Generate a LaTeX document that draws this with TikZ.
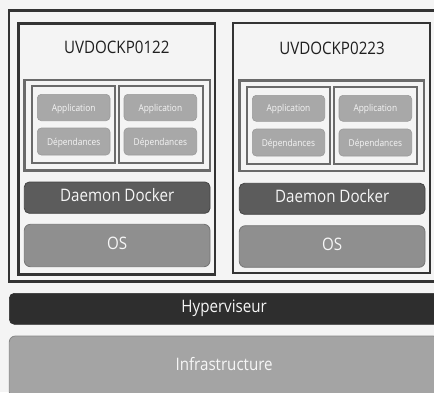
\documentclass[tikz,border=0pt]{standalone}
\usepackage{fontspec}
\setmainfont{Open Sans}[FakeStretch=0.88]
\definecolor{bg}{HTML}{F4F4F4}
\definecolor{frame}{HTML}{333333}
\definecolor{cont}{HTML}{6A6A6A}
\definecolor{appfill}{HTML}{A8A8A8}
\definecolor{appline}{HTML}{9A9A9A}
\definecolor{dmfill}{HTML}{5C5C5C}
\definecolor{dmline}{HTML}{444444}
\definecolor{osfill}{HTML}{8F8F8F}
\definecolor{osline}{HTML}{757575}
\definecolor{hyfill}{HTML}{2E2E2E}
\definecolor{infill}{HTML}{A4A4A4}
\definecolor{inline}{HTML}{888888}
\definecolor{txtw}{HTML}{F6F6F6}
\tikzset{
  every node/.style={inner sep=0pt, outer sep=0pt},
  bigtxt/.style={font=\fontsize{17.2}{20}\selectfont, text height=0.714em, text depth=0pt},
  smalltxt/.style={font=\fontsize{9.5}{11}\selectfont, text height=0.714em, text depth=0pt},
  outerframe/.style={draw=frame, line width=2.5pt},
  vmbox/.style={draw=frame, line width=2.5pt, fill=bg},
  contbox/.style={draw=cont, line width=2.2pt, fill=bg},
  appbox/.style={draw=appline, line width=0.6pt, fill=appfill, rounded corners=4pt, text=txtw, smalltxt},
  dmbox/.style={draw=dmline, line width=0.8pt, fill=dmfill, rounded corners=5pt, text=txtw, bigtxt},
  osbox/.style={draw=osline, line width=0.8pt, fill=osfill, rounded corners=6pt, text=txtw, bigtxt},
  hybox/.style={draw=hyfill, line width=0.6pt, fill=hyfill, rounded corners=5pt, text=txtw, bigtxt},
  infbox/.style={draw=inline, line width=0.8pt, fill=infill, rounded corners=6pt, text=txtw, bigtxt},
  title/.style={text=black!88, bigtxt}
}
\begin{document}
\begin{tikzpicture}[x=1pt, y=-1pt]
\useasboundingbox (0,0) rectangle (434,392);
\clip (0,0) rectangle (434,392);
\fill[bg] (0,0) rectangle (434,392);

% outer frame
\node[outerframe, minimum width=430.8pt, minimum height=270.8pt] (outer) at (224.6,145.9) {};

% VM 1
\node[vmbox, minimum width=196.7pt, minimum height=250.6pt] (vm1) at (116.65,149) {};
\node[title] (t1) at (116.8,50) {UVDOCKP0122};
\node[contbox, minimum width=185.5pt, minimum height=90.7pt] (c1) at (117.25,125.15) {};
\node[contbox, minimum width=83.3pt, minimum height=77pt] (c1a) at (73.65,124.8) {};
\node[contbox, minimum width=83.7pt, minimum height=77pt] (c1b) at (160.85,124.8) {};
\node[appbox, minimum width=72.7pt, minimum height=26.4pt] (a1a) at (73.65,107.5) {Application};
\node[appbox, minimum width=72.7pt, minimum height=27pt] (d1a) at (73.65,141.5) {Dépendances};
\node[appbox, minimum width=72.7pt, minimum height=26.4pt] (a1b) at (160.35,107.5) {Application};
\node[appbox, minimum width=72.7pt, minimum height=27pt] (d1b) at (160.35,141.5) {Dépendances};
\node[dmbox, minimum width=185.7pt, minimum height=31.3pt] (dm1) at (117.15,197.65) {Daemon Docker};
\node[osbox, minimum width=185.7pt, minimum height=42.4pt] (os1) at (117.15,245.5) {OS};

% VM 2
\node[vmbox, minimum width=197pt, minimum height=250pt] (vm2) at (331.5,148) {};
\node[title] (t2) at (332,50.5) {UVDOCKP0223};
\node[contbox, minimum width=184.7pt, minimum height=90.7pt] (c2) at (331.85,125.85) {};
\node[contbox, minimum width=83.3pt, minimum height=77.3pt] (c2a) at (288.35,125.65) {};
\node[contbox, minimum width=82.7pt, minimum height=77.3pt] (c2b) at (375.35,125.65) {};
\node[appbox, minimum width=72.4pt, minimum height=26pt] (a2a) at (288.5,108.3) {Application};
\node[appbox, minimum width=72.4pt, minimum height=27pt] (d2a) at (288.5,142.5) {Dépendances};
\node[appbox, minimum width=72.7pt, minimum height=26pt] (a2b) at (375.35,108.3) {Application};
\node[appbox, minimum width=72.7pt, minimum height=27pt] (d2b) at (375.35,142.5) {Dépendances};
\node[dmbox, minimum width=185.7pt, minimum height=31pt] (dm2) at (332.15,198.8) {Daemon Docker};
\node[osbox, minimum width=185.7pt, minimum height=41.6pt] (os2) at (332.15,246.5) {OS};

% bottom layers
\node[hybox, minimum width=429.7pt, minimum height=31pt] (hy) at (224.15,308.8) {Hyperviseur};
\node[infbox, minimum width=429.7pt, minimum height=62pt] (inf) at (224.15,367) {Infrastructure};
\end{tikzpicture}
\end{document}
